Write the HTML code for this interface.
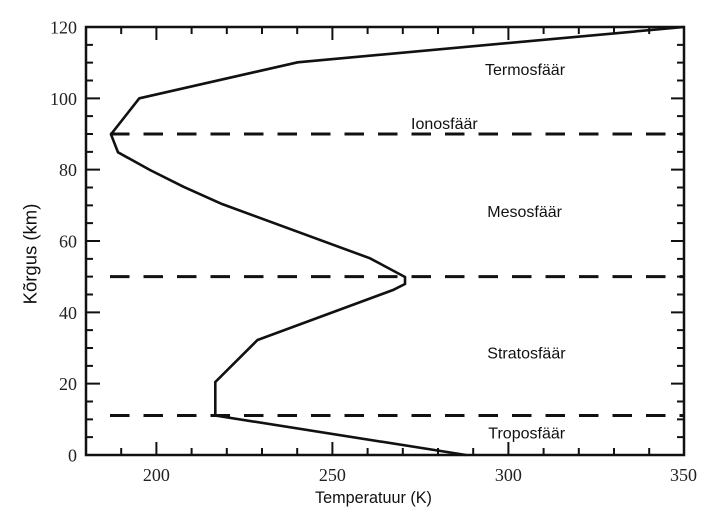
<!DOCTYPE html>
<html>
<head>
<meta charset="utf-8">
<style>
html,body{margin:0;padding:0;background:#fff;}
svg{display:block;}
</style>
</head>
<body>
<svg width="718" height="522" viewBox="0 0 718 522" xmlns="http://www.w3.org/2000/svg">
<rect width="718" height="522" fill="#fff"/>
<!-- frame -->
<rect x="86" y="27" width="598" height="428" fill="none" stroke="#111" stroke-width="2.5"/>
<!-- x ticks bottom & top -->
<g stroke="#111" stroke-width="2">
<path d="M121.2 455V448 M191.6 455V448 M226.8 455V448 M262 455V448 M297.2 455V448 M367.6 455V448 M402.8 455V448 M438 455V448 M473.2 455V448 M543.6 455V448 M578.8 455V448 M614 455V448 M649.2 455V448"/>
<path d="M156.4 455V442 M332.4 455V442 M508.4 455V442"/>
<path d="M121.2 27V34 M191.6 27V34 M226.8 27V34 M262 27V34 M297.2 27V34 M367.6 27V34 M402.8 27V34 M438 27V34 M473.2 27V34 M543.6 27V34 M578.8 27V34 M614 27V34 M649.2 27V34"/>
<path d="M156.4 27V40 M332.4 27V40 M508.4 27V40"/>
<!-- y ticks left -->
<path d="M86 437.17H93 M86 419.33H93 M86 401.5H93 M86 365.83H93 M86 348H93 M86 330.17H93 M86 294.5H93 M86 276.67H93 M86 258.83H93 M86 223.17H93 M86 205.33H93 M86 187.5H93 M86 151.83H93 M86 134H93 M86 116.17H93 M86 80.5H93 M86 62.67H93 M86 44.83H93"/>
<path d="M86 383.67H100 M86 312.33H100 M86 241H100 M86 169.67H100 M86 98.33H100"/>
<!-- y ticks right -->
<path d="M684 437.17H677 M684 419.33H677 M684 401.5H677 M684 365.83H677 M684 348H677 M684 330.17H677 M684 294.5H677 M684 276.67H677 M684 258.83H677 M684 223.17H677 M684 205.33H677 M684 187.5H677 M684 151.83H677 M684 134H677 M684 116.17H677 M684 80.5H677 M684 62.67H677 M684 44.83H677"/>
<path d="M684 383.67H671 M684 312.33H671 M684 241H671 M684 169.67H671 M684 98.33H671"/>
</g>
<!-- dashed lines -->
<g stroke="#111" stroke-width="3" stroke-dasharray="19.5 14">
<line x1="110" y1="134" x2="684" y2="134"/>
<line x1="110" y1="276.67" x2="684" y2="276.67"/>
<line x1="110" y1="415.5" x2="684" y2="415.5"/>
</g>
<!-- curve -->
<polyline fill="none" stroke="#111" stroke-width="2.6" stroke-linejoin="miter"
points="466,455 215.3,415.5 215.3,382 257.5,340 393,290 405,284 405,277 370,258.3 222,204 183.3,186.7 150,170 118,152.3 111,134.3 139.3,98.3 297.7,62.3 684,27"/>
<!-- tick labels -->
<g font-family="'Liberation Serif', serif" font-size="18" fill="#222" text-anchor="end">
<text x="77" y="461.5">0</text>
<text x="77" y="390.2">20</text>
<text x="77" y="318.8">40</text>
<text x="77" y="247.5">60</text>
<text x="77" y="176.2">80</text>
<text x="77" y="104.8">100</text>
<text x="77" y="33.5">120</text>
</g>
<g font-family="'Liberation Serif', serif" font-size="18" fill="#222" text-anchor="middle">
<text x="156.4" y="481">200</text>
<text x="332.4" y="481">250</text>
<text x="508.4" y="481">300</text>
<text x="683.5" y="481">350</text>
</g>
<!-- axis labels -->
<g font-family="'Liberation Sans', sans-serif" fill="#111">
<text x="315" y="503" font-size="16.2">Temperatuur (K)</text>
<text transform="translate(36.5,254) rotate(-90)" text-anchor="middle" font-size="18.5">Kõrgus (km)</text>
</g>
<!-- region labels -->
<g font-family="'Liberation Sans', sans-serif" font-size="16" fill="#111">
<text x="485" y="75">Termosfäär</text>
<text x="411" y="129">Ionosfäär</text>
<text x="487.3" y="217">Mesosfäär</text>
<text x="487.3" y="358.5">Stratosfäär</text>
<text x="488.3" y="438.5">Troposfäär</text>
</g>
</svg>
</body>
</html>
